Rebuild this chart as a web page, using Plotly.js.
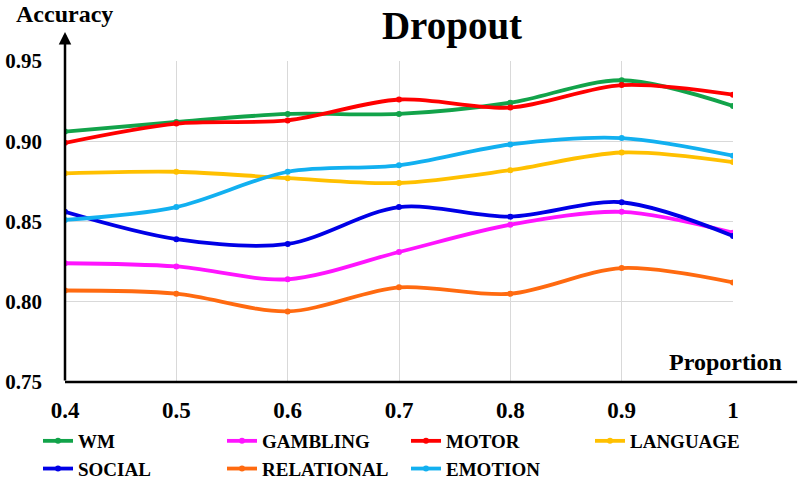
<!DOCTYPE html>
<html>
<head>
<meta charset="utf-8">
<script src="https://cdn.plot.ly/plotly-3.0.1.min.js"></script>
<style>
  body { margin: 0; padding: 0; background: #fff; }
  #chart { width: 800px; height: 481px; }
</style>
</head>
<body>
<div id="chart"></div>
<script>
// data
var proportions = [0.4, 0.5, 0.6, 0.7, 0.8, 0.9, 1.0];
var tickText = ['0.4', '0.5', '0.6', '0.7', '0.8', '0.9', '1'];

var wm         = [0.906, 0.912, 0.917, 0.917, 0.924, 0.938, 0.922];
var gambling   = [0.824, 0.822, 0.814, 0.831, 0.848, 0.856, 0.843];
var motor      = [0.899, 0.911, 0.913, 0.926, 0.921, 0.935, 0.929];
var language   = [0.880, 0.881, 0.877, 0.874, 0.882, 0.893, 0.887];
var social     = [0.856, 0.839, 0.836, 0.859, 0.853, 0.862, 0.841];
var relational = [0.807, 0.805, 0.794, 0.809, 0.805, 0.821, 0.812];
var emotion    = [0.851, 0.859, 0.881, 0.885, 0.898, 0.902, 0.891];

var seriesNames = ['WM', 'GAMBLING', 'MOTOR', 'LANGUAGE', 'SOCIAL', 'RELATIONAL', 'EMOTION'];
var seriesData = [wm, gambling, motor, language, social, relational, emotion];
var seriesColors = ['#12a34a', '#ff14ff', '#ff0000', '#ffc000', '#0000e6', '#ff6a10', '#12b0f0'];

var serif = 'Liberation Serif, Times New Roman, serif';

// one trace per task, smoothed like the excel lines
var data = seriesNames.map(function (name, i) {
    return {
        x: proportions,
        y: seriesData[i],
        name: name,
        type: 'scatter',
        mode: 'lines+markers',
        line: {color: seriesColors[i], width: 3.8, shape: 'spline', smoothing: 0.9},
        marker: {color: seriesColors[i], size: 6}
    };
});

var layout = {
    width: 800,
    height: 481,
    margin: {l: 65, r: 67, t: 61, b: 99, autoexpand: false},
    paper_bgcolor: '#fff',
    plot_bgcolor: '#fff',
    showlegend: true,
    title: {
        text: 'Dropout',
        font: {family: serif, size: 39, weight: 700, color: '#000'},
        x: 452 / 800, xanchor: 'center',
        y: 1 - 25 / 481, yanchor: 'middle'
    },
    xaxis: {
        range: [0.4, 1.0],
        tickvals: proportions,
        ticktext: tickText,
        showgrid: true,
        gridcolor: '#d9d9d9',
        gridwidth: 1,
        zeroline: false,
        showline: false,
        ticks: '',
        ticklabelstandoff: 12,
        tickfont: {family: serif, size: 23, weight: 700, color: '#000'}
    },
    yaxis: {
        range: [0.75, 0.95],
        tickvals: [0.75, 0.80, 0.85, 0.90, 0.95],
        ticktext: ['0.75', '0.80', '0.85', '0.90', '0.95'],
        showgrid: true,
        gridcolor: '#d9d9d9',
        gridwidth: 1,
        zeroline: false,
        showline: false,
        ticks: '',
        ticklabelstandoff: 22,
        tickfont: {family: serif, size: 21, weight: 700, color: '#000'}
    },
    // 4 entries on the first row, 3 on the second
    legend: {
        orientation: 'h',
        xref: 'paper', yref: 'paper',
        x: -27 / 668, xanchor: 'left',
        y: -40 / 321, yanchor: 'top',
        entrywidth: 139,
        entrywidthmode: 'pixels',
        font: {family: serif, size: 19, weight: 700, color: '#000'},
        bgcolor: 'rgba(0,0,0,0)',
        traceorder: 'normal'
    },
    shapes: [
        // x axis line running past the plot
        {type: 'line', xref: 'paper', yref: 'paper', x0: 0, x1: 1.096, y0: 0, y1: 0,
         line: {color: '#000', width: 2.5}}
    ],
    annotations: [
        // y axis with arrow
        {x: 0.4, y: 0.968, ax: 0.4, ay: 0.75, xref: 'x', yref: 'y', axref: 'x', ayref: 'y',
         showarrow: true, arrowhead: 2, arrowsize: 1, arrowwidth: 2.5, arrowcolor: '#000', text: ''},
        {text: 'Accuracy', xref: 'paper', yref: 'paper', x: -1 / 668, y: 1 + 47 / 321,
         xanchor: 'center', yanchor: 'middle', showarrow: false,
         font: {family: serif, size: 24, weight: 700, color: '#000'}},
        {text: 'Proportion', xref: 'paper', yref: 'paper', x: 660 / 668, y: 20 / 321,
         xanchor: 'center', yanchor: 'middle', showarrow: false,
         font: {family: serif, size: 24, weight: 700, color: '#000'}}
    ]
};

Plotly.newPlot('chart', data, layout, {displayModeBar: false, staticPlot: true});
</script>
</body>
</html>
